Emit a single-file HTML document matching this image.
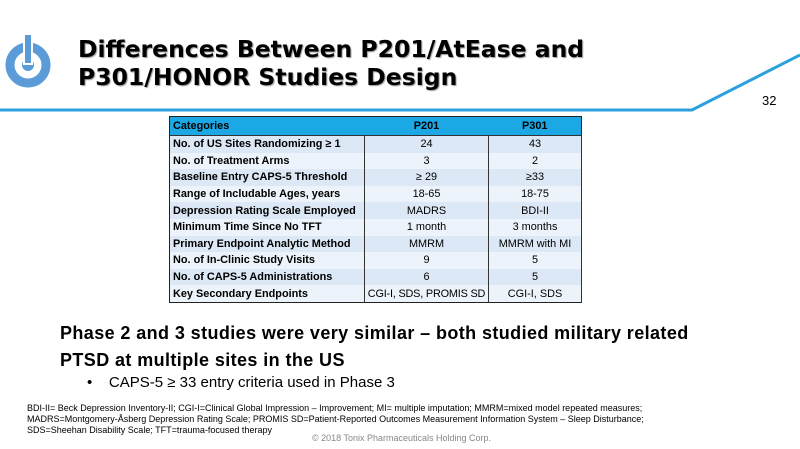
<!DOCTYPE html>
<html><head><meta charset="utf-8"><style>
body{margin:0;width:800px;height:449px;background:#fff;position:relative;overflow:hidden;font-family:"Liberation Sans",sans-serif}
.t{position:absolute;left:78px;top:35px;font-size:23.5px;font-weight:bold;line-height:28px;color:#000;font-family:"DejaVu Sans","Liberation Sans",sans-serif;letter-spacing:0px;text-shadow:1px 1px 1px #999}
table{position:absolute;left:169px;top:116px;width:413px;table-layout:fixed;border-collapse:collapse;font-size:10.9px;border:1.5px solid #222}
td{height:16.6px;padding:0 3px;border-right:1px solid #333;white-space:nowrap;overflow:hidden}
td:nth-child(n+2){text-align:center;padding:0}
td:first-child{font-weight:bold}
tr:nth-child(even) td{background:#dce8f5}
tr:nth-child(odd) td{background:#edf3fa}
tr.h td{background:#1ba8e4;font-weight:bold;border-right:none;height:18px;border-bottom:1px solid #333}
.p{position:absolute;left:60px;font-size:18px;font-weight:bold;letter-spacing:0.4px}
.f{position:absolute;left:27px;top:403px;font-size:9px;line-height:11px;color:#000;letter-spacing:0px}
</style></head><body>
<svg width="800" height="120" style="position:absolute;left:0;top:0">
<polyline points="0,110 692,110 800,55" fill="none" stroke="#2aa0dc" stroke-width="3"/>
<circle cx="28" cy="65" r="18" fill="none" stroke="#5b9bd8" stroke-width="9"/>
<circle cx="28" cy="65" r="6" fill="#5b9bd8"/>
<rect x="24" y="34" width="8" height="30" fill="#5b9bd8" stroke="#fff" stroke-width="2"/>
<text x="762" y="105" font-size="13" font-family="Liberation Sans">32</text>
</svg>
<div class="t">Differences Between P201/AtEase and<br>P301/HONOR Studies Design</div>
<table>
<colgroup><col style="width:195px"><col style="width:124px"><col></colgroup>
<tr class="h"><td>Categories</td><td style="text-align:center">P201</td><td style="text-align:center">P301</td></tr>
<tr><td>No. of US Sites Randomizing ≥ 1</td><td>24</td><td>43</td></tr>
<tr><td>No. of Treatment Arms</td><td>3</td><td>2</td></tr>
<tr><td>Baseline Entry CAPS-5 Threshold</td><td>≥ 29</td><td>≥33</td></tr>
<tr><td>Range of Includable Ages, years</td><td>18-65</td><td>18-75</td></tr>
<tr><td>Depression Rating Scale Employed</td><td>MADRS</td><td>BDI-II</td></tr>
<tr><td>Minimum Time Since No TFT</td><td>1 month</td><td>3 months</td></tr>
<tr><td>Primary Endpoint Analytic Method</td><td>MMRM</td><td>MMRM with MI</td></tr>
<tr><td>No. of In-Clinic Study Visits</td><td>9</td><td>5</td></tr>
<tr><td>No. of CAPS-5 Administrations</td><td>6</td><td>5</td></tr>
<tr><td>Key Secondary Endpoints</td><td style="letter-spacing:-0.2px">CGI-I, SDS, PROMIS SD</td><td>CGI-I, SDS</td></tr>
</table>
<div class="p" style="top:323px">Phase 2 and 3 studies were very similar – both studied military related</div>
<div class="p" style="top:350px">PTSD at multiple sites in the US</div>
<div style="position:absolute;left:87px;top:374px;font-size:15px">•&nbsp;&nbsp;&nbsp;&nbsp;CAPS-5 ≥ 33 entry criteria used in Phase 3</div>
<div class="f">BDI-II= Beck Depression Inventory-II; CGI-I=Clinical Global Impression – Improvement; MI= multiple imputation; MMRM=mixed model repeated measures;<br>MADRS=Montgomery-Åsberg Depression Rating Scale; PROMIS SD=Patient-Reported Outcomes Measurement Information System – Sleep Disturbance;<br>SDS=Sheehan Disability Scale; TFT=trauma-focused therapy</div>
<div style="position:absolute;left:312px;top:433px;font-size:9px;color:#888">© 2018 Tonix Pharmaceuticals Holding Corp.</div>
</body></html>
